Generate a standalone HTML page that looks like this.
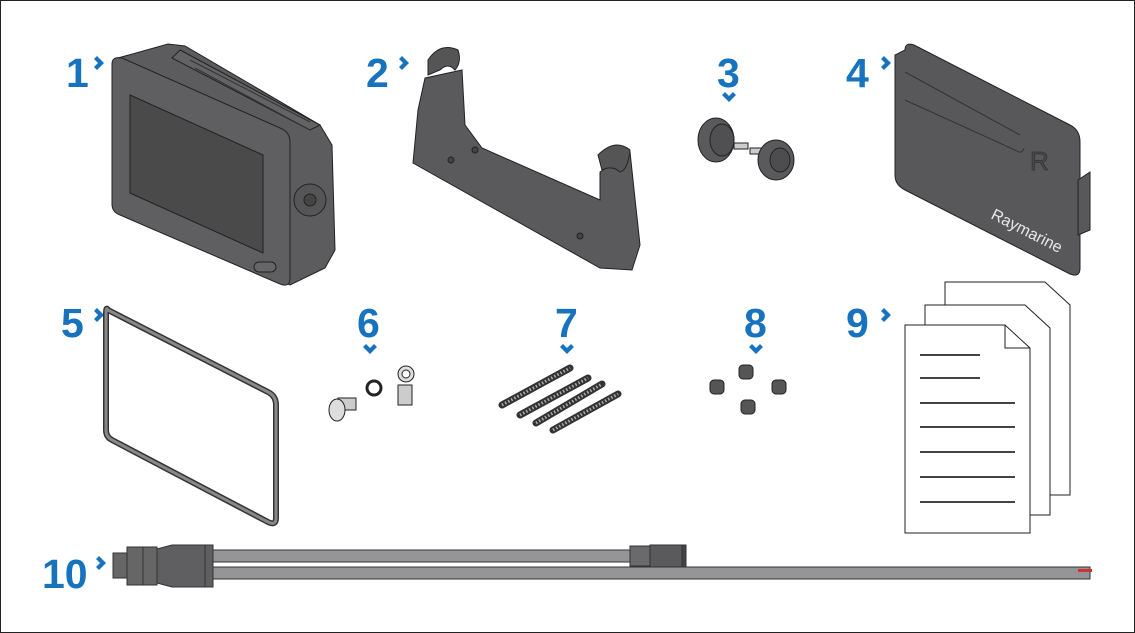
<!DOCTYPE html>
<html><head><meta charset="utf-8"><style>
html,body{margin:0;padding:0;background:#fff}
svg{display:block}
.n{font-family:"Liberation Sans",sans-serif;font-weight:bold;font-size:41px;fill:#1773bd}
</style></head><body>
<svg width="1135" height="633" viewBox="0 0 1135 633" xmlns="http://www.w3.org/2000/svg">
<rect x="0.5" y="0.5" width="1134" height="632" fill="#fff" stroke="#222" stroke-width="1"/>
<defs>
<path id="chr" d="M-2,-7 L5,0 L-2,7 L-5,4 L-1,0 L-5,-4 Z" fill="#1773bd"/>
<path id="chd" d="M-7,-2 L0,5 L7,-2 L4,-5 L0,-1 L-4,-5 Z" fill="#1773bd"/>
</defs>
<!-- numbers -->
<text class="n" x="66" y="87">1</text><use href="#chr" x="99" y="63"/>
<text class="n" x="366" y="87">2</text><use href="#chr" x="404" y="63"/>
<text class="n" x="717" y="87">3</text><use href="#chd" x="729" y="97"/>
<text class="n" x="846" y="87">4</text><use href="#chr" x="886" y="63"/>
<text class="n" x="61" y="337">5</text><use href="#chr" x="99" y="315"/>
<text class="n" x="357" y="337">6</text><use href="#chd" x="370" y="349"/>
<text class="n" x="555" y="337">7</text><use href="#chd" x="567" y="349"/>
<text class="n" x="744" y="337">8</text><use href="#chd" x="756" y="349"/>
<text class="n" x="846" y="337">9</text><use href="#chr" x="886" y="315"/>
<text class="n" x="42" y="588">10</text><use href="#chr" x="101" y="563"/>

<!-- 1 display -->
<g stroke="#222" stroke-width="1">
<path d="M118,58 L168,44 L185,46 L320,125 L332,145 L335,250 L325,268 L290,285 L120,210 Z" fill="#5c5c5e"/>
<path d="M112,64 Q112,56 122,58 L280,128 Q290,132 290,142 L290,278 Q290,288 280,284 L120,215 Q112,212 112,204 Z" fill="#5f5f61"/>
<path d="M130,95 L263,155 L263,253 L130,193 Z" fill="#4a4a4b"/>
<path d="M180,50 L320,125 L310,130 L172,58 Z" fill="#636365"/>
<circle cx="310" cy="200" r="16" fill="#555"/><circle cx="310" cy="200" r="6" fill="#444"/>
<rect x="254" y="262" width="22" height="10" rx="5" fill="#666"/>
</g>
<g stroke="#333" stroke-width="1">
<line x1="190" y1="60" x2="310" y2="122"/><line x1="195" y1="68" x2="310" y2="130"/>
</g>

<!-- 2 bracket -->
<path d="M425,78 L462,70 L465,125 L482,148 L600,200 L600,172 L630,152 L640,245 L632,270 L600,268 L413,163 L418,110 Z" fill="#5a5a5c" stroke="#222"/>
<path d="M428,60 Q440,42 458,50 Q462,62 455,70 Q448,62 440,70 L428,75 Z" fill="#555" stroke="#222"/>
<path d="M598,155 Q615,138 630,150 Q628,170 620,172 Q612,165 602,170 Z" fill="#555" stroke="#222"/>
<circle cx="451" cy="160" r="3" fill="#444" stroke="#222"/><circle cx="475" cy="150" r="3" fill="#444" stroke="#222"/><circle cx="580" cy="236" r="3" fill="#444" stroke="#222"/>

<!-- 3 knobs -->
<g stroke="#222">
<ellipse cx="716" cy="140" rx="18" ry="22" fill="#5a5a5c"/><ellipse cx="722" cy="140" rx="12" ry="16" fill="#505052"/>
<rect x="734" y="143" width="14" height="6" fill="#ccc"/>
<rect x="750" y="148" width="14" height="6" fill="#ccc"/>
<ellipse cx="776" cy="160" rx="18" ry="20" fill="#5a5a5c"/><ellipse cx="780" cy="160" rx="10" ry="12" fill="#4d4d4f"/>
</g>

<!-- 4 cover -->
<path d="M905,50 Q905,42 914,45 L1070,125 Q1080,130 1080,142 L1080,268 Q1080,278 1070,274 L905,190 Q895,185 895,175 L895,55 Z" fill="#58585a" stroke="#222"/>
<path d="M1078,180 L1090,172 L1090,230 L1078,235 Z" fill="#58585a" stroke="#222"/>
<path d="M905,72 L1020,135" stroke="#333" fill="none"/><path d="M905,100 L1015,150 Q1022,155 1024,148" stroke="#333" fill="none"/>
<text x="1030" y="170" font-family="Liberation Sans,sans-serif" font-size="26" fill="#4a4a4c" stroke="#333" stroke-width="0.8">R</text>
<text transform="translate(990,218) rotate(27)" font-family="Liberation Sans,sans-serif" font-size="16" fill="#e8e8e8">Raymarine</text>

<!-- 5 gasket -->
<path d="M108,310 L268,392 Q276,396 276,405 L276,518 Q276,526 268,522 L112,440 Q106,437 106,430 L106,314 Q106,306 108,310 Z" fill="none" stroke="#333" stroke-width="6"/>
<path d="M108,310 L268,392 Q276,396 276,405 L276,518 Q276,526 268,522 L112,440 Q106,437 106,430 L106,314 Q106,306 108,310 Z" fill="none" stroke="#888" stroke-width="3"/>

<!-- 6 screw washer lug -->
<g stroke="#222">
<rect x="338" y="398" width="18" height="12" fill="#ccc"/>
<ellipse cx="337" cy="410" rx="8" ry="11" fill="#ddd"/>
<circle cx="374" cy="388" r="7" fill="none" stroke-width="3"/>
<circle cx="406" cy="374" r="8" fill="#ddd"/><circle cx="406" cy="374" r="4" fill="#fff"/>
<rect x="398" y="385" width="14" height="20" fill="#ccc"/>
</g>

<!-- 7 rods -->
<g stroke="#333" stroke-width="7" stroke-linecap="round">
<line x1="502" y1="405" x2="570" y2="368"/><line x1="520" y1="415" x2="588" y2="378"/>
<line x1="536" y1="423" x2="602" y2="384"/><line x1="553" y1="430" x2="618" y2="394"/>
</g>
<g stroke="#aaa" stroke-width="3" stroke-dasharray="1.5 2" stroke-linecap="butt">
<line x1="502" y1="405" x2="570" y2="368"/><line x1="520" y1="415" x2="588" y2="378"/>
<line x1="536" y1="423" x2="602" y2="384"/><line x1="553" y1="430" x2="618" y2="394"/>
</g>

<!-- 8 nuts -->
<g fill="#555" stroke="#222">
<rect x="739" y="365" width="14" height="14" rx="4"/><rect x="710" y="380" width="14" height="14" rx="4"/>
<rect x="772" y="380" width="14" height="14" rx="4"/><rect x="741" y="400" width="14" height="14" rx="4"/>
</g>

<!-- 9 pages -->
<g stroke="#222" fill="#fff">
<path d="M945,282 L1045,282 L1070,305 L1070,495 L945,495 Z"/>
<path d="M925,305 L1025,305 L1050,328 L1050,515 L925,515 Z"/>
<path d="M905,325 L1005,325 L1030,348 L1030,533 L905,533 Z"/>
<path d="M1005,325 L1005,348 L1030,348" fill="none"/>
</g>
<g stroke="#444" stroke-width="2">
<line x1="920" y1="355" x2="980" y2="355"/><line x1="920" y1="378" x2="980" y2="378"/>
<line x1="920" y1="403" x2="1015" y2="403"/><line x1="920" y1="427" x2="1015" y2="427"/>
<line x1="920" y1="452" x2="1015" y2="452"/><line x1="920" y1="477" x2="1015" y2="477"/>
<line x1="920" y1="502" x2="1015" y2="502"/>
</g>

<!-- 10 cable -->
<g stroke="#333">
<rect x="210" y="550" width="420" height="12" fill="#959597"/>
<rect x="210" y="567" width="880" height="12" fill="#959597"/>
<rect x="1078" y="569" width="14" height="3" fill="#c33" stroke="none"/>
<rect x="113" y="553" width="15" height="25" fill="#666"/>
<rect x="127" y="547" width="17" height="38" fill="#666"/>
<rect x="143" y="547" width="14" height="38" fill="#666"/>
<path d="M157,549 L172,545 L205,545 L205,587 L172,587 L157,583 Z" fill="#5f5f61"/>
<rect x="205" y="545" width="8" height="42" fill="#5f5f61"/>
<rect x="630" y="546" width="20" height="20" fill="#6a6a6c"/>
<rect x="650" y="545" width="32" height="22" fill="#5a5a5c"/>
<rect x="682" y="545" width="4" height="22" fill="#444"/>
</g>
</svg>
</body></html>
